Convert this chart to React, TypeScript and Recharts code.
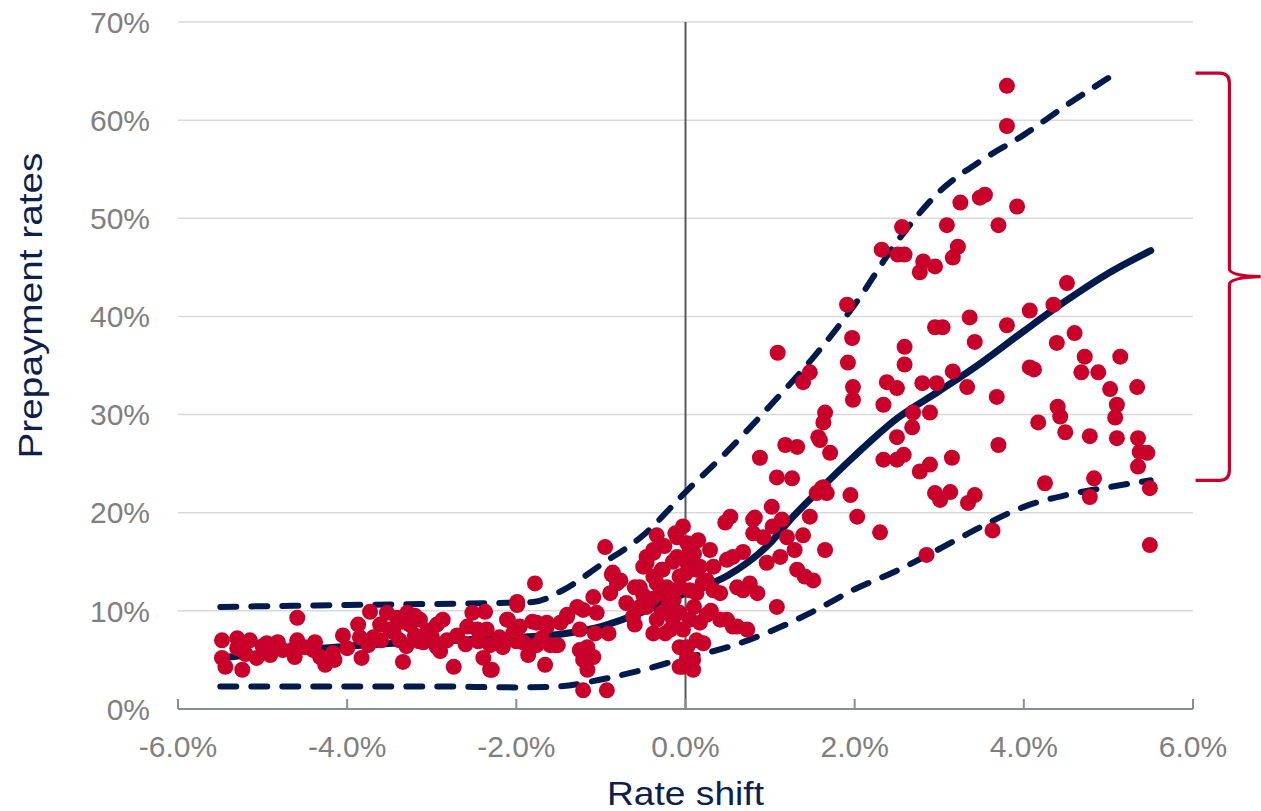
import React from 'react';
import {
  ComposedChart,
  XAxis,
  YAxis,
  CartesianGrid,
  Scatter,
  Line,
  ReferenceArea,
  Label,
} from 'recharts';

const RED = '#c8002a';
const NAVY = '#001a4b';
const FONT = '"Liberation Sans", Arial, sans-serif';

// Axis ticks
const xTicks = [-6, -4, -2, 0, 2, 4, 6];
const yTicks = [0, 10, 20, 30, 40, 50, 60, 70];

// Scatter observations [rate shift %, prepayment rate %]
const leftCluster: number[][] = [
  [-5.48, 7.0], [-5.48, 5.2], [-5.44, 4.3], [-5.3, 7.2], [-5.3, 6.2], [-5.24, 4.0], [-5.15, 7.0],
  [-5.07, 5.2], [-4.95, 6.7], [-4.91, 5.5], [-4.82, 6.8], [-4.76, 6.0], [-4.59, 9.3], [-4.59, 7.0],
  [-4.62, 5.3], [-4.5, 6.3], [-4.38, 6.8], [-4.32, 5.3], [-4.26, 4.5], [-4.17, 5.7], [-4.15, 5.0],
  [-4.05, 7.5], [-3.87, 8.6], [-3.83, 5.2], [-3.85, 7.3], [-3.73, 9.9], [-3.69, 7.3], [-3.61, 8.6],
  [-3.53, 9.8], [-3.49, 8.1], [-3.41, 9.3], [-3.38, 7.0], [-3.34, 4.8], [-3.29, 9.8], [-3.26, 8.6],
  [-3.2, 7.5], [-3.14, 9.1], [-3.1, 6.8], [-2.94, 8.6], [-2.87, 9.1], [-2.94, 6.3], [-2.82, 7.0],
  [-2.74, 4.3], [-2.7, 7.5], [-2.58, 8.4], [-2.52, 9.8], [-2.46, 8.1], [-2.37, 9.9], [-2.39, 5.2],
  [-2.31, 6.5], [-2.29, 4.0], [-2.16, 6.3], [-2.1, 9.1], [-1.99, 10.9], [-2.04, 7.7], [-1.92, 6.8],
  [-1.86, 5.5], [-1.81, 8.9], [-1.78, 12.8], [-1.76, 6.5], [-1.66, 4.5], [-1.64, 8.8], [-1.6, 6.5],
  [-1.51, 6.5], [-1.4, 9.6], [-3.45, 7.8], [-3.35, 8.9], [-3.2, 9.5], [-3.05, 8.0], [-3.6, 7.0],
  [-3.3, 6.4], [-3.15, 6.9], [-3.0, 7.4], [-2.9, 5.9], [-4.65, 6.0], [-4.0, 6.2], [-4.4, 6.0],
  [-5.2, 5.6], [-5.0, 6.4], [-3.75, 6.5], [-2.6, 6.6], [-2.2, 7.3], [-2.45, 6.9], [-2.0, 6.9],
  [-1.7, 7.2],
];

const centerCluster: number[][] = [
  [-2.35, 8.1], [-2.31, 4.0], [-2.11, 9.1], [-1.99, 10.6], [-1.96, 8.4], [-1.84, 6.3], [-1.76, 8.8],
  [-1.64, 8.4], [-1.54, 6.5], [-1.48, 8.8], [-1.4, 9.4], [-1.28, 10.4], [-1.25, 8.1], [-1.25, 6.0],
  [-1.21, 5.0], [-1.16, 4.0], [-1.21, 1.9], [-1.09, 11.4], [-1.05, 9.8], [-1.07, 7.7], [-0.95, 16.5],
  [-0.93, 1.9], [-0.91, 7.7], [-0.87, 13.7], [-0.81, 12.8], [-0.77, 13.1], [-0.6, 12.4], [-0.54, 10.4],
  [-0.5, 14.5], [-0.46, 15.5], [-0.38, 16.2], [-0.34, 17.7], [-0.38, 13.5], [-0.28, 14.2], [-0.22, 12.4],
  [-0.28, 9.8], [-0.24, 7.7], [-0.12, 17.9], [-0.1, 15.5], [-0.07, 13.5], [-0.03, 18.6], [0.02, 16.9],
  [0.02, 14.9], [0.05, 12.1], [-0.07, 9.8], [-0.03, 8.1], [0.02, 6.3], [-0.03, 4.3], [0.09, 5.0],
  [0.13, 14.2], [0.17, 8.8], [0.29, 16.2], [0.33, 14.5], [0.25, 13.1], [0.21, 6.7], [0.33, 12.1],
  [0.41, 11.8], [0.47, 19.0], [0.53, 19.6], [0.49, 9.1], [0.56, 15.5], [0.61, 8.4], [0.68, 16.0],
  [0.68, 12.1], [0.73, 8.1], [0.76, 12.8], [0.82, 19.5], [0.85, 11.8], [0.8, 17.9], [0.92, 17.5],
  [0.96, 14.9], [1.02, 20.6], [1.03, 18.6], [1.08, 10.4], [1.12, 15.5], [1.14, 19.3], [1.2, 17.5],
  [1.29, 16.2], [1.32, 14.2], [1.39, 17.7], [1.41, 13.5], [1.47, 19.6], [1.51, 13.1], [1.65, 16.2],
  [1.55, 22.0], [1.63, 22.6], [1.95, 21.8], [2.03, 19.6], [2.3, 18.0],
  [-0.1, 17.5], [-0.38, 15.9], [-0.46, 14.9], [0.05, 16.2], [0.17, 14.5], [-0.27, 14.2], [-0.54, 12.4],
  [-0.34, 12.8], [-0.07, 12.4], [0.13, 11.8], [-0.14, 11.1], [-0.46, 10.4], [-0.62, 9.4], [-0.34, 9.1],
  [0.05, 9.1], [-0.18, 8.1], [-0.38, 7.7], [0.13, 7.0], [-0.07, 6.3], [0.02, 5.3], [-0.07, 4.3],
  [0.09, 4.0], [0.41, 9.1], [0.56, 8.4], [0.49, 15.2], [0.8, 19.3], [0.61, 12.4], [-0.86, 13.9],
  [-0.89, 11.8], [-1.21, 10.1], [-1.09, 5.3], [-1.16, 6.3], [-0.2, 10.6], [0.1, 10.4], [-0.15, 15.0],
  [0.2, 12.8], [-0.4, 11.2], [0.3, 10.0], [-0.6, 8.6], [-0.7, 10.8], [0.0, 13.8], [0.1, 15.8],
  [-0.25, 16.6], [0.15, 17.2], [-0.5, 11.6], [-0.15, 9.2], [0.25, 9.6], [-0.3, 11.8],
];

const rightCluster: number[][] = [
  [1.09, 36.3], [1.47, 34.3], [1.39, 33.3], [1.91, 41.2], [1.97, 37.8], [1.92, 35.3], [1.98, 32.8],
  [1.98, 31.5], [1.65, 30.2], [1.63, 29.2], [1.57, 27.7], [1.59, 27.4], [1.71, 26.1], [1.18, 26.9],
  [1.32, 26.7], [0.88, 25.6], [1.08, 23.6], [1.26, 23.5], [1.61, 22.5], [1.67, 22.0],
  [2.34, 31.0], [2.38, 33.3], [2.5, 32.7], [2.59, 36.9], [2.59, 35.1], [2.8, 33.2], [2.97, 33.2],
  [2.95, 38.9], [3.04, 38.9], [3.16, 34.4], [3.36, 39.9], [3.42, 37.4], [3.33, 32.8], [2.69, 30.2],
  [2.89, 30.2], [2.68, 28.7], [2.5, 27.7], [2.34, 25.4], [2.58, 25.9], [2.5, 25.4], [2.77, 24.2],
  [2.89, 24.9], [3.15, 25.6], [2.95, 22.0], [3.01, 21.3], [3.13, 22.1], [3.34, 21.0], [3.42, 21.8],
  [2.85, 15.7], [3.63, 18.2], [3.68, 31.8], [3.7, 26.9],
  [3.8, 63.5], [3.8, 59.4], [3.25, 51.6], [3.48, 52.1], [3.54, 52.4], [3.92, 51.2], [3.7, 49.3],
  [3.09, 49.3], [2.56, 49.1], [2.32, 46.8], [2.51, 46.3], [2.59, 46.3], [2.81, 45.6], [2.77, 44.5],
  [2.95, 45.1], [3.22, 47.1], [3.16, 46.0],
  [3.8, 39.1], [4.07, 40.6], [4.35, 41.2], [4.51, 43.4], [4.6, 38.3], [4.39, 37.3], [4.72, 35.9],
  [5.14, 35.9], [4.07, 34.8], [4.12, 34.6], [4.68, 34.3], [4.88, 34.3], [5.02, 32.6], [5.34, 32.8],
  [5.1, 31.0], [4.4, 30.8], [4.43, 29.8], [4.17, 29.2], [4.49, 28.2], [4.78, 27.8], [5.1, 27.6],
  [5.08, 29.7], [5.35, 27.6], [5.37, 26.2], [5.46, 26.1], [5.35, 24.7], [4.25, 23.0], [4.83, 23.5],
  [4.78, 21.6], [5.49, 22.5], [5.49, 16.7],
];

// Fitted curves [rate shift %, prepayment rate %]
const meanCurve: number[][] = [
  [-5.5, 5.2], [-4, 6.4], [-3, 6.9], [-2, 7.3], [-1.5, 7.6], [-1, 8.4], [-0.5, 9.9], [0, 11.8],
  [0.5, 13.6], [1, 16.9], [1.25, 19.4], [1.5, 21.6], [2, 25.8], [2.5, 29.6], [3, 32.4], [3.5, 35.3],
  [4, 38.5], [4.5, 41.6], [5, 44.4], [5.5, 46.7],
];
const upperCurve: number[][] = [
  [-5.5, 10.4], [-4, 10.6], [-3, 10.7], [-2.2, 10.8], [-1.8, 10.9], [-1.45, 12.1], [-1, 14.7],
  [-0.5, 17.7], [0, 22.1], [0.5, 26.3], [1, 30.9], [1.5, 35.7], [2, 41.2], [2.5, 47.6], [3, 52.7],
  [3.5, 55.9], [4, 58.5], [4.5, 61.5], [5, 64.3],
];
const lowerCurve: number[][] = [
  [-5.5, 2.3], [-4, 2.3], [-3, 2.3], [-2, 2.2], [-1.5, 2.3], [-1, 3.0], [-0.5, 4.0], [0, 5.2],
  [0.5, 6.3], [1, 7.9], [1.5, 9.9], [2, 12.2], [2.5, 14.1], [3, 16.3], [3.5, 18.6], [4, 20.6],
  [4.5, 21.8], [5, 22.6], [5.5, 23.3],
];
const zeroLine: number[][] = [[0, 0], [0, 70]];

// Bracket annotation extent (data units)
const braceX = [6.03, 6.8];
const braceY = [23.3, 64.8];

const toPts = (arr: number[][]) => arr.map(([x, y]) => ({ x, y }));
const scatterData = toPts([...leftCluster, ...centerCluster, ...rightCluster]);

const XTick = (props: any) => {
  const { x, y, payload } = props;
  return (
    <g>
      <line x1={x} x2={x} y1={y - 10} y2={y} stroke="#8a8d96" strokeWidth={2} />
      <text x={x} y={y + 48} textAnchor="middle" fontSize={30} fill="#7f7f7f" fontFamily={FONT}>
        {`${Number(payload.value).toFixed(1)}%`}
      </text>
    </g>
  );
};

const Dot = (props: any) => <circle cx={props.cx} cy={props.cy} r={8} fill={RED} />;

const Brace = (props: any) => {
  const { x, y, width, height } = props;
  const xl = x;
  const xr = x + width;
  const xv = x + width * 0.52;
  const yt = y;
  const yb = y + height;
  const ym = y + height / 2;
  const r = 10;
  const d = `M${xl},${yt} L${xv - r},${yt} Q${xv},${yt} ${xv},${yt + r} L${xv},${ym - 8} Q${xv},${ym - 1} ${xr},${ym} Q${xv},${ym + 1} ${xv},${ym + 8} L${xv},${yb - r} Q${xv},${yb} ${xv - r},${yb} L${xl},${yb}`;
  return <path d={d} fill="none" stroke={RED} strokeWidth={3.2} />;
};

export default function App() {
  return (
    <div style={{ position: 'absolute', left: 0, top: 0 }}>
      <ComposedChart
        width={1261}
        height={811}
        margin={{ top: 22, right: 68, bottom: 0, left: 0 }}
      >
        <CartesianGrid horizontal vertical={false} stroke="#d9d9d9" strokeWidth={1.5} />
        <XAxis
          type="number"
          dataKey="x"
          domain={[-6, 6]}
          ticks={xTicks}
          interval={0}
          height={102}
          axisLine={{ stroke: '#8a8d96', strokeWidth: 2 }}
          tickLine={false}
          tickSize={0}
          tickMargin={0}
          tick={<XTick />}
        >
          <Label
            content={(p: any) => {
              const vb = p.viewBox;
              return (
                <text
                  x={vb.x + vb.width / 2}
                  y={vb.y + 96}
                  textAnchor="middle"
                  fontSize={33}
                  fill="#0d1f4f"
                  fontFamily={FONT}
                  textLength={157}
                  lengthAdjust="spacingAndGlyphs"
                >
                  Rate shift
                </text>
              );
            }}
          />
        </XAxis>
        <YAxis
          type="number"
          dataKey="y"
          domain={[0, 70]}
          ticks={yTicks}
          interval={0}
          width={178}
          axisLine={false}
          tickLine={false}
          tickSize={0}
          tickMargin={28}
          tickFormatter={(v: number) => `${v}%`}
          tick={{ fontSize: 30, fill: '#7f7f7f', fontFamily: FONT }}
        >
          <Label
            content={(p: any) => {
              const vb = p.viewBox;
              const cx = 42;
              const cy = vb.y + vb.height / 2 - 60;
              return (
                <text
                  x={cx}
                  y={cy}
                  transform={`rotate(-90 ${cx} ${cy})`}
                  textAnchor="middle"
                  fontSize={33}
                  fill="#0d1f4f"
                  fontFamily={FONT}
                  textLength={306}
                  lengthAdjust="spacingAndGlyphs"
                >
                  Prepayment rates
                </text>
              );
            }}
          />
        </YAxis>
        <Line
          data={toPts(zeroLine)}
          dataKey="y"
          type="linear"
          stroke="#595959"
          strokeWidth={2}
          dot={false}
          activeDot={false}
          isAnimationActive={false}
          legendType="none"
        />
        <Scatter data={scatterData} dataKey="y" fill={RED} shape={<Dot />} isAnimationActive={false} />
        <Line
          data={toPts(upperCurve)}
          dataKey="y"
          type="monotone"
          stroke={NAVY}
          strokeWidth={6}
          strokeDasharray="16 15"
          strokeLinecap="round"
          dot={false}
          activeDot={false}
          isAnimationActive={false}
        />
        <Line
          data={toPts(lowerCurve)}
          dataKey="y"
          type="monotone"
          stroke={NAVY}
          strokeWidth={6}
          strokeDasharray="16 15"
          strokeLinecap="round"
          dot={false}
          activeDot={false}
          isAnimationActive={false}
        />
        <Line
          data={toPts(meanCurve)}
          dataKey="y"
          type="monotone"
          stroke={NAVY}
          strokeWidth={7}
          strokeLinecap="round"
          dot={false}
          activeDot={false}
          isAnimationActive={false}
        />
        <ReferenceArea
          x1={braceX[0]}
          x2={braceX[1]}
          y1={braceY[0]}
          y2={braceY[1]}
          ifOverflow="visible"
          shape={<Brace />}
        />
      </ComposedChart>
    </div>
  );
}
